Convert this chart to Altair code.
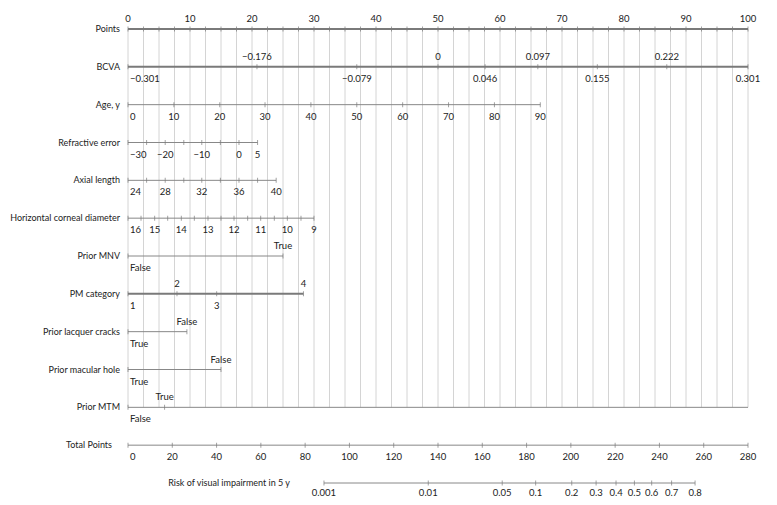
import altair as alt
import pandas as pd

FONT = "Lato"
TEXT = "#222222"

ROWS = ["Points", "BCVA", "Age, y", "Refractive error", "Axial length",
        "Horizontal corneal diameter", "Prior MNV", "PM category",
        "Prior lacquer cracks", "Prior macular hole", "Prior MTM",
        "Total Points", "Risk of visual impairment in 5 y"]
THICK_ROWS = ["Points", "BCVA", "PM category"]

POINTS_MAX = 100
TOTAL_MAX = 280

# ---- values (positions in points, 0-100) ----
points_labels = ["0", "10", "20", "30", "40", "50", "60", "70", "80", "90", "100"]
points_label_pos = [0, 10, 20, 30, 40, 50, 60, 70, 80, 90, 100]
points_tick_pos = [0, 2.5, 5, 7.5, 10, 12.5, 15, 17.5, 20, 22.5, 25, 27.5, 30, 32.5, 35,
                   37.5, 40, 42.5, 45, 47.5, 50, 52.5, 55, 57.5, 60, 62.5, 65, 67.5, 70,
                   72.5, 75, 77.5, 80, 82.5, 85, 87.5, 90, 92.5, 95, 97.5, 100]

bcva_above = ["−0.176", "0", "0.097", "0.222"]
bcva_above_pos = [20.8, 50, 66.1, 86.9]
bcva_below = ["−0.301", "−0.079", "0.046", "0.155", "0.301"]
bcva_below_pos = [0, 36.9, 57.6, 75.7, 100]

age_labels = ["0", "10", "20", "30", "40", "50", "60", "70", "80", "90"]
age_pos = [0, 7.4, 14.8, 22.1, 29.5, 36.9, 44.3, 51.7, 59.1, 66.5]

refr_labels = ["−30", "−20", "−10", "0", "5"]
refr_pos = [0, 6.0, 11.9, 17.9, 20.9]
refr_tick_pos = [0, 3.0, 6.0, 9.0, 11.9, 14.9, 17.9, 20.9]

axial_labels = ["24", "28", "32", "36", "40"]
axial_pos = [0, 6.0, 11.9, 17.9, 23.9]
axial_tick_pos = [0, 3.0, 6.0, 9.0, 11.9, 14.9, 17.9, 20.9, 23.9]

hcd_labels = ["16", "15", "14", "13", "12", "11", "10", "9"]
hcd_pos = [0, 4.3, 8.6, 12.9, 17.1, 21.4, 25.7, 30.0]
hcd_tick_pos = [0, 2.1, 4.3, 6.4, 8.6, 10.7, 12.9, 15.0, 17.1, 19.3, 21.4, 23.6,
                25.7, 27.9, 30.0]

mnv_above, mnv_above_pos = ["True"], [25.0]
mnv_below, mnv_below_pos = ["False"], [0]

pm_above, pm_above_pos = ["2", "4"], [7.9, 28.3]
pm_below, pm_below_pos = ["1", "3"], [0, 14.3]

lc_above, lc_above_pos = ["False"], [9.5]
lc_below, lc_below_pos = ["True"], [0]

mh_above, mh_above_pos = ["False"], [15.0]
mh_below, mh_below_pos = ["True"], [0]

mtm_above, mtm_above_pos = ["True"], [5.9]
mtm_below, mtm_below_pos = ["False"], [0]

total_labels = ["0", "20", "40", "60", "80", "100", "120", "140", "160", "180",
                "200", "220", "240", "260", "280"]
total_values = [0, 20, 40, 60, 80, 100, 120, 140, 160, 180, 200, 220, 240, 260, 280]

risk_labels = ["0.001", "0.01", "0.05", "0.1", "0.2", "0.3", "0.4", "0.5", "0.6",
               "0.7", "0.8"]
risk_total_pos = [88.5, 135.6, 169.0, 184.1, 200.4, 211.4, 220.4, 228.7, 236.5,
                  245.5, 256.1]

# axis line extents (points; total-points units for the last two rows)
line_start = [0, 0, 0, 0, 0, 0, 0, 0, 0, 0, 0, 0, 88.5]
line_end = [100, 100, 66.5, 20.9, 23.9, 30.0, 25.0, 28.3, 9.5, 15.0, 100, 280, 256.1]

grid_pos = points_tick_pos

# ---- build tables ----
def to_pts(total):
    return total * POINTS_MAX / TOTAL_MAX

lines = []
for i, name in enumerate(ROWS):
    s, e = line_start[i], line_end[i]
    if name in ("Total Points", "Risk of visual impairment in 5 y"):
        s, e = to_pts(s), to_pts(e)
    lines.append({"row": i, "name": name, "start": s, "end": e,
                  "thick": name in THICK_ROWS})
lines_df = pd.DataFrame(lines)

labels = []
ticks = []

def add(row, texts, pos, side, tickpos=None):
    for t, p in zip(texts, pos):
        labels.append({"row": row, "pos": p, "text": t, "side": side})
    for p in (tickpos if tickpos is not None else pos):
        ticks.append({"row": row, "pos": p})

add(0, points_labels, points_label_pos, "above", points_tick_pos)
add(1, bcva_above, bcva_above_pos, "above")
add(1, bcva_below, bcva_below_pos, "below")
add(2, age_labels, age_pos, "below")
add(3, refr_labels, refr_pos, "below", refr_tick_pos)
add(4, axial_labels, axial_pos, "below", axial_tick_pos)
add(5, hcd_labels, hcd_pos, "below", hcd_tick_pos)
add(6, mnv_above, mnv_above_pos, "above")
add(6, mnv_below, mnv_below_pos, "below")
add(7, pm_above, pm_above_pos, "above")
add(7, pm_below, pm_below_pos, "below")
add(8, lc_above, lc_above_pos, "above")
add(8, lc_below, lc_below_pos, "below")
add(9, mh_above, mh_above_pos, "above")
add(9, mh_below, mh_below_pos, "below")
add(10, mtm_above, mtm_above_pos, "above")
add(10, mtm_below, mtm_below_pos, "below")
add(11, total_labels, [to_pts(v) for v in total_values], "below")
add(12, risk_labels, [to_pts(v) for v in risk_total_pos], "bottom")

labels_df = pd.DataFrame(labels)
ticks_df = pd.DataFrame(ticks)
grid_df = pd.DataFrame({"pos": grid_pos, "top": 0, "bottom": 10})

xs = alt.Scale(domain=[0, POINTS_MAX], nice=False, zero=False)
ys = alt.Scale(domain=[0, 12], reverse=True, nice=False, zero=False)

def X(f):
    return alt.X(f, scale=xs, axis=None)

def Y(f):
    return alt.Y(f, scale=ys, axis=None)

grid = alt.Chart(grid_df).mark_rule(color="#d4d4d4", strokeWidth=1).encode(
    x=X("pos:Q"), y=Y("top:Q"), y2="bottom:Q")

thin = alt.Chart(lines_df).transform_filter("!datum.thick").mark_rule(
    color="#888888", strokeWidth=1).encode(x=X("start:Q"), x2="end:Q", y=Y("row:Q"))
thick = alt.Chart(lines_df).transform_filter("datum.thick").mark_rule(
    color="#7a7a7a", strokeWidth=2).encode(x=X("start:Q"), x2="end:Q", y=Y("row:Q"))

tk = alt.Chart(ticks_df).mark_tick(orient="vertical", size=5, thickness=1,
                                   color="#7a7a7a").encode(x=X("pos:Q"), y=Y("row:Q"))

txt = dict(font=FONT, fontSize=9.5, color=TEXT, baseline="middle")
name_txt = dict(font=FONT, fontSize=9, color=TEXT, baseline="middle")

above = alt.Chart(labels_df).transform_filter("datum.side == 'above'").mark_text(
    align="center", dy=-10, **txt).encode(x=X("pos:Q"), y=Y("row:Q"), text="text:N")
below_c = alt.Chart(labels_df).transform_filter(
    "datum.side == 'below' && datum.pos > 0").mark_text(
    align="center", dy=12, **txt).encode(x=X("pos:Q"), y=Y("row:Q"), text="text:N")
below_l = alt.Chart(labels_df).transform_filter(
    "datum.side == 'below' && datum.pos == 0").mark_text(
    align="left", dx=2, dy=12, **txt).encode(x=X("pos:Q"), y=Y("row:Q"), text="text:N")
bottom = alt.Chart(labels_df).transform_filter("datum.side == 'bottom'").mark_text(
    align="center", dy=10, **txt).encode(x=X("pos:Q"), y=Y("row:Q"), text="text:N")

names_main = alt.Chart(lines_df).transform_filter("datum.row <= 10").mark_text(
    align="right", dx=-8, **name_txt).encode(x=X("start:Q"), y=Y("row:Q"), text="name:N")
names_total = alt.Chart(lines_df).transform_filter("datum.row == 11").mark_text(
    align="right", dx=-16, **name_txt).encode(x=X("start:Q"), y=Y("row:Q"), text="name:N")
names_risk = alt.Chart(lines_df).transform_filter("datum.row == 12").mark_text(
    align="right", dx=-34, **name_txt).encode(x=X("start:Q"), y=Y("row:Q"), text="name:N")

chart = alt.layer(grid, thin, thick, tk, above, below_c, below_l, bottom,
                  names_main, names_total, names_risk).properties(
    width=620, height=454,
    background="white",
    autosize=alt.AutoSizeParams(type="none"),
    padding={"left": 120, "top": 21, "right": 21, "bottom": 14},
).configure_view(strokeWidth=0, stroke=None)

chart.save("out.html", embed_options={"renderer": "svg", "actions": False})
